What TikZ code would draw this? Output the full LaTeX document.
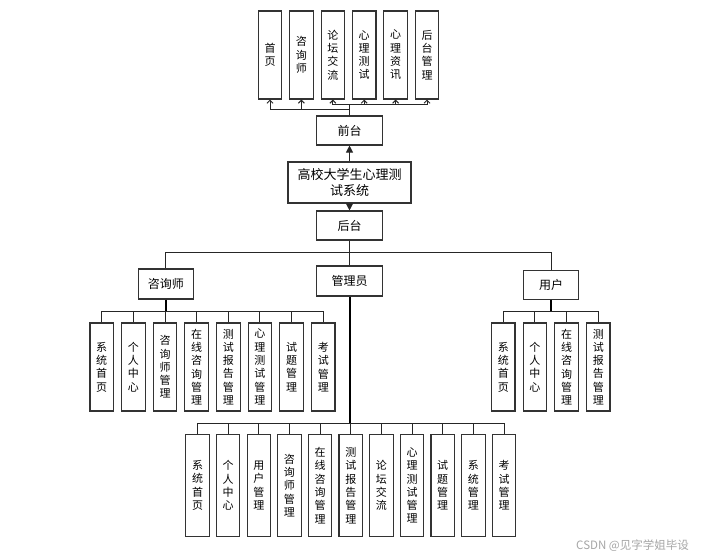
\documentclass[tikz,border=0pt]{standalone}
\usepackage{fontspec}
\setmainfont{Noto Sans CJK SC}
\usetikzlibrary{arrows.meta}

\tikzset{
  box/.style={draw=black!80, line width=1.1pt, fill=white, inner sep=0pt, align=center},
  hbox/.style={box, font=\fontsize{12}{14}\selectfont},
  vbox/.style={box, minimum width=23.5pt, font=\fontsize{11}{13.3}\selectfont},
  link/.style={line width=1pt, draw=black!85},
  trunk/.style={line width=2pt, draw=black},
  opentip/.style={-{Straight Barb[length=3pt,width=6pt]}},
  solidtip/.style={-{Triangle[length=7pt,width=7pt]}},
}

\begin{document}
\begin{tikzpicture}[x=1pt,y=1pt,yscale=-1]
\fill [white] (0,0) rectangle (708,559);
\useasboundingbox (0,0) rectangle (708,559);

% Text Node
\node [hbox, minimum width=123pt, minimum height=41pt, font=\fontsize{13}{16.7}\selectfont] (sys) at (349.5,182.5) {高校大学生心理测\\试系统};
\node [hbox, minimum width=66pt, minimum height=29pt] (qt) at (349.5,130.5) {前台};
\node [hbox, minimum width=66pt, minimum height=29pt] (ht) at (349.5,225.5) {后台};
\node [hbox, minimum width=55pt, minimum height=30pt] (zxs) at (165.8,284) {咨询师};
\node [hbox, minimum width=66pt, minimum height=30pt] (gly) at (349.5,281) {管理员};
\node [hbox, minimum width=55pt, minimum height=29pt] (yh) at (551,284.7) {用户};

% front pages
\foreach \lbl [count=\i] in {首\\页, 咨\\询\\师, 论\\坛\\交\\流, 心\\理\\测\\试, 心\\理\\资\\讯, 后\\台\\管\\理}
  \node [vbox, minimum height=88pt] (f\i) at (238.6+31.4*\i,55) {\lbl};
% counsellor
\foreach \lbl [count=\i] in {系\\统\\首\\页, 个\\人\\中\\心, 咨\\询\\师\\管\\理, 在\\线\\咨\\询\\管\\理, 测\\试\\报\\告\\管\\理, 心\\理\\测\\试\\管\\理, 试\\题\\管\\理, 考\\试\\管\\理}
  \node [vbox, minimum height=88pt] (c\i) at (70.05+31.65*\i,367) {\lbl};
% user
\foreach \lbl [count=\i] in {系\\统\\首\\页, 个\\人\\中\\心, 在\\线\\咨\\询\\管\\理, 测\\试\\报\\告\\管\\理}
  \node [vbox, minimum height=88pt] (u\i) at (471.6+31.67*\i,367) {\lbl};
% admin
\foreach \lbl [count=\i] in {系\\统\\首\\页, 个\\人\\中\\心, 用\\户\\管\\理, 咨\\询\\师\\管\\理, 在\\线\\咨\\询\\管\\理, 测\\试\\报\\告\\管\\理, 论\\坛\\交\\流, 心\\理\\测\\试\\管\\理, 试\\题\\管\\理, 系\\统\\管\\理, 考\\试\\管\\理}
  \node [vbox, minimum height=102pt] (a\i) at (166.85+30.65*\i,485.5) {\lbl};

% Straight Lines
\draw [link, solidtip] (sys.north) -- (qt.south);
\draw [link, solidtip] (sys.south) -- (ht.north);
\foreach \i in {1,2}
  \draw [link, opentip] (qt.north) -- ++(0,-6) -| (f\i.south);
\foreach \i in {3,...,6}
  \draw [link, opentip] (qt.north) -- ++(0,-11) -| (f\i.south);

\draw [link] (ht.south) -- ++(0,12) coordinate (hb);
\foreach \r in {zxs,gly,yh}
  \draw [link] (hb) -| (\r.north);

\draw [trunk] (zxs.south) -- ++(0,11.5) coordinate (zb);
\foreach \i in {1,...,8}
  \draw [link] (zb) -| (c\i.north);
\draw [trunk] (yh.south) -- ++(0,11.5) coordinate (yb);
\foreach \i in {1,...,4}
  \draw [link] (yb) -| (u\i.north);
\draw [trunk] (gly.south) -- ++(0,127) coordinate (gb);
\foreach \i in {1,...,11}
  \draw [link] (gb) -| (a\i.north);

% Text Node
\node [text=black!35, font=\fontsize{11.5}{12}\selectfont, anchor=east, inner sep=0pt] (wm) at (689,546) {CSDN @见字学姐毕设};
\end{tikzpicture}
\end{document}
